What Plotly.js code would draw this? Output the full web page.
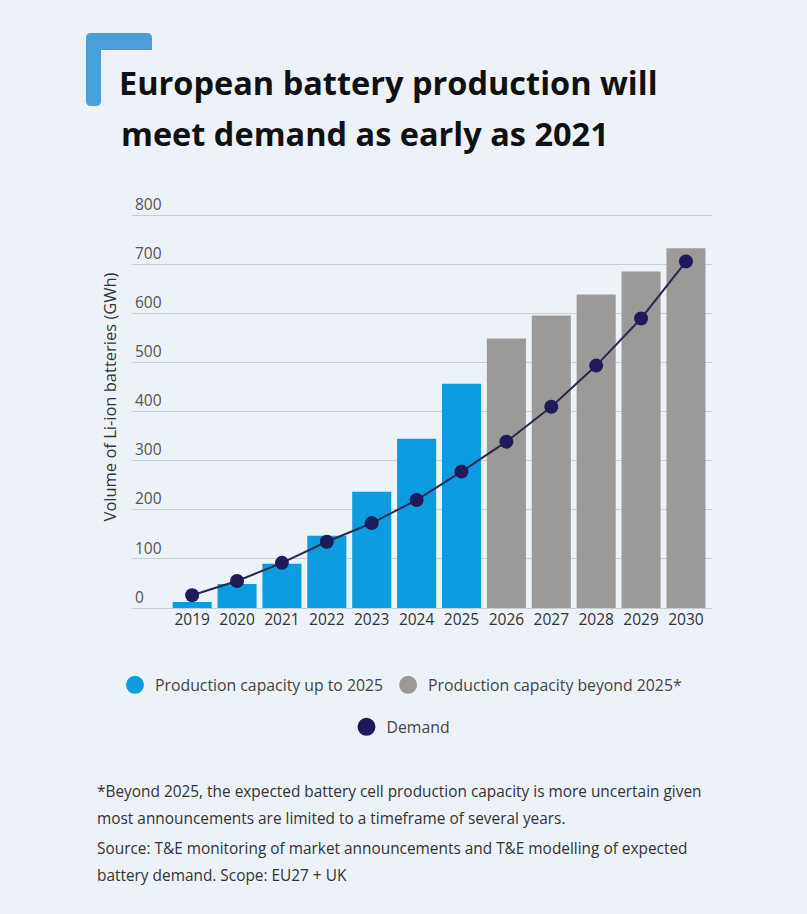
<!DOCTYPE html>
<html>
<head>
<meta charset="utf-8">
<script src="https://cdn.plot.ly/plotly-3.0.1.min.js"></script>
<style>html,body{margin:0;padding:0;background:#edf2f9;}</style>
</head>
<body>
<div id="chart" style="width:807px;height:914px;"></div>
<script>
// ---- data ----
const years = ['2019','2020','2021','2022','2023','2024','2025','2026','2027','2028','2029','2030'];
const yearsUpTo2025 = ['2019','2020','2021','2022','2023','2024','2025'];
const capacityUpTo2025 = [12, 49, 90, 147, 237, 345, 457];
const yearsBeyond2025 = ['2026','2027','2028','2029','2030'];
const capacityBeyond2025 = [549, 596, 639, 686, 733];
const demand = [26, 55, 92, 135, 173, 220, 278, 339, 410, 494, 590, 706];
const yTickValues = [0, 100, 200, 300, 400, 500, 600, 700, 800];
const seriesNames = ['Production capacity up to 2025', 'Production capacity beyond 2025*', 'Demand'];
const titleLines = ['European battery production will', 'meet demand as early as 2021'];
const footnoteLines = [
  '*Beyond 2025, the expected battery cell production capacity is more uncertain given',
  'most announcements are limited to a timeframe of several years.',
  'Source: T&E monitoring of market announcements and T&E modelling of expected',
  'battery demand. Scope: EU27 + UK'
];

// ---- styles ----
const BLUE = '#0b9de0', GRAY = '#9b9a99', NAVY = '#1f1a5c', BG = '#edf2f9';
const FONT = 'Open Sans, Noto Sans, sans-serif';
const W = 807, H = 914, ML = 132, MR = 95, MT = 186, MB = 306;
const PW = W - ML - MR, PH = H - MT - MB;
const px = x => (x - ML) / PW;
const py = y => (H - MB - y) / PH;

const traces = [
  {type:'bar', x: yearsUpTo2025, y: capacityUpTo2025, marker:{color: BLUE}, showlegend:false},
  {type:'bar', x: yearsBeyond2025, y: capacityBeyond2025, marker:{color: GRAY}, showlegend:false},
  {type:'scatter', mode:'lines+markers', x: years, y: demand, line:{color:'#2b284f', width:2},
   marker:{color: NAVY, size:14}, showlegend:false},
  // legend entries (circle symbols)
  {type:'scatter', mode:'markers', x:[years[0]], y:[null], name: seriesNames[0], marker:{color: BLUE, size:16, line:{color: BLUE, width:2}}, legend:'legend'},
  {type:'scatter', mode:'markers', x:[years[0]], y:[null], name: seriesNames[1], marker:{color: GRAY, size:16, line:{color: GRAY, width:2}}, legend:'legend'},
  {type:'scatter', mode:'markers', x:[years[0]], y:[null], name: seriesNames[2], marker:{color: NAVY, size:16, line:{color: NAVY, width:2}}, legend:'legend2'}
];

// decorative rounded "L" mark
const r = 5;
const deco = [
  `M ${px(86)},${py(33+r)}`,
  `Q ${px(86)},${py(33)} ${px(86+r)},${py(33)}`,
  `L ${px(152-r)},${py(33)}`,
  `Q ${px(152)},${py(33)} ${px(152)},${py(33+r)}`,
  `L ${px(152)},${py(50)}`,
  `L ${px(101)},${py(50)}`,
  `L ${px(101)},${py(106-r)}`,
  `Q ${px(101)},${py(106)} ${px(101-r)},${py(106)}`,
  `L ${px(86+r)},${py(106)}`,
  `Q ${px(86)},${py(106)} ${px(86)},${py(106-r)}`,
  'Z'
].join(' ');

const annotations = [
  {text: titleLines[1], xref:'paper', yref:'paper', x: px(119), y: py(133), xanchor:'left', yanchor:'middle',
   showarrow:false, font:{family: FONT, size:32.5, color:'#111', weight:700}}
];
const footY = [791, 818, 848, 875];
footnoteLines.forEach((t, i) => annotations.push({
  text: t, xref:'paper', yref:'paper', x: px(95), y: py(footY[i]), xanchor:'left', yanchor:'middle',
  showarrow:false, font:{family: FONT, size:15.4, color:'#333'}
}));

const layout = {
  width: W, height: H,
  margin: {l: ML, r: MR, t: MT, b: MB},
  paper_bgcolor: BG, plot_bgcolor: BG,
  font: {family: FONT, color: '#333'},
  title: {text: titleLines[0], x: 119 / W, xanchor: 'left', xref: 'container',
          y: 1 - 84 / H, yanchor: 'middle', yref: 'container',
          font: {family: FONT, size: 32.5, color: '#111', weight: 700}},
  barmode: 'overlay', bargap: 0.13,
  xaxis: {type: 'category', categoryorder: 'array', categoryarray: years,
          range: [-1.34, 11.58], showgrid: false, zeroline: false, showline: false, ticks: '',
          tickfont: {family: FONT, size: 15.5, color: '#333'}, fixedrange: true},
  yaxis: {range: [0, 860], tickvals: yTickValues, ticklabelposition: 'inside top',
          showgrid: true, gridcolor: '#c9cdd4', gridwidth: 1, zeroline: true, zerolinecolor: '#c9cdd4', zerolinewidth: 1,
          showline: false, ticks: '', tickfont: {family: FONT, size: 15.5, color: '#555'},
          title: {text: 'Volume of Li-ion batteries (GWh)', standoff: 14, font: {family: FONT, size: 16.5, color: '#333'}},
          fixedrange: true},
  legend: {orientation: 'h', x: px(401), xanchor: 'center', y: py(685), yanchor: 'middle',
           bgcolor: 'rgba(0,0,0,0)', font: {family: FONT, size: 15.8, color: '#444'}},
  legend2: {orientation: 'h', x: px(401), xanchor: 'center', y: py(727), yanchor: 'middle',
           bgcolor: 'rgba(0,0,0,0)', font: {family: FONT, size: 15.8, color: '#444'}},
  shapes: [{type: 'path', xref: 'paper', yref: 'paper', path: deco, fillcolor: '#4a9fdb', line: {width: 0}}],
  annotations: annotations,
  hovermode: false
};

Plotly.newPlot('chart', traces, layout, {displayModeBar: false, staticPlot: true});
</script>
</body>
</html>
